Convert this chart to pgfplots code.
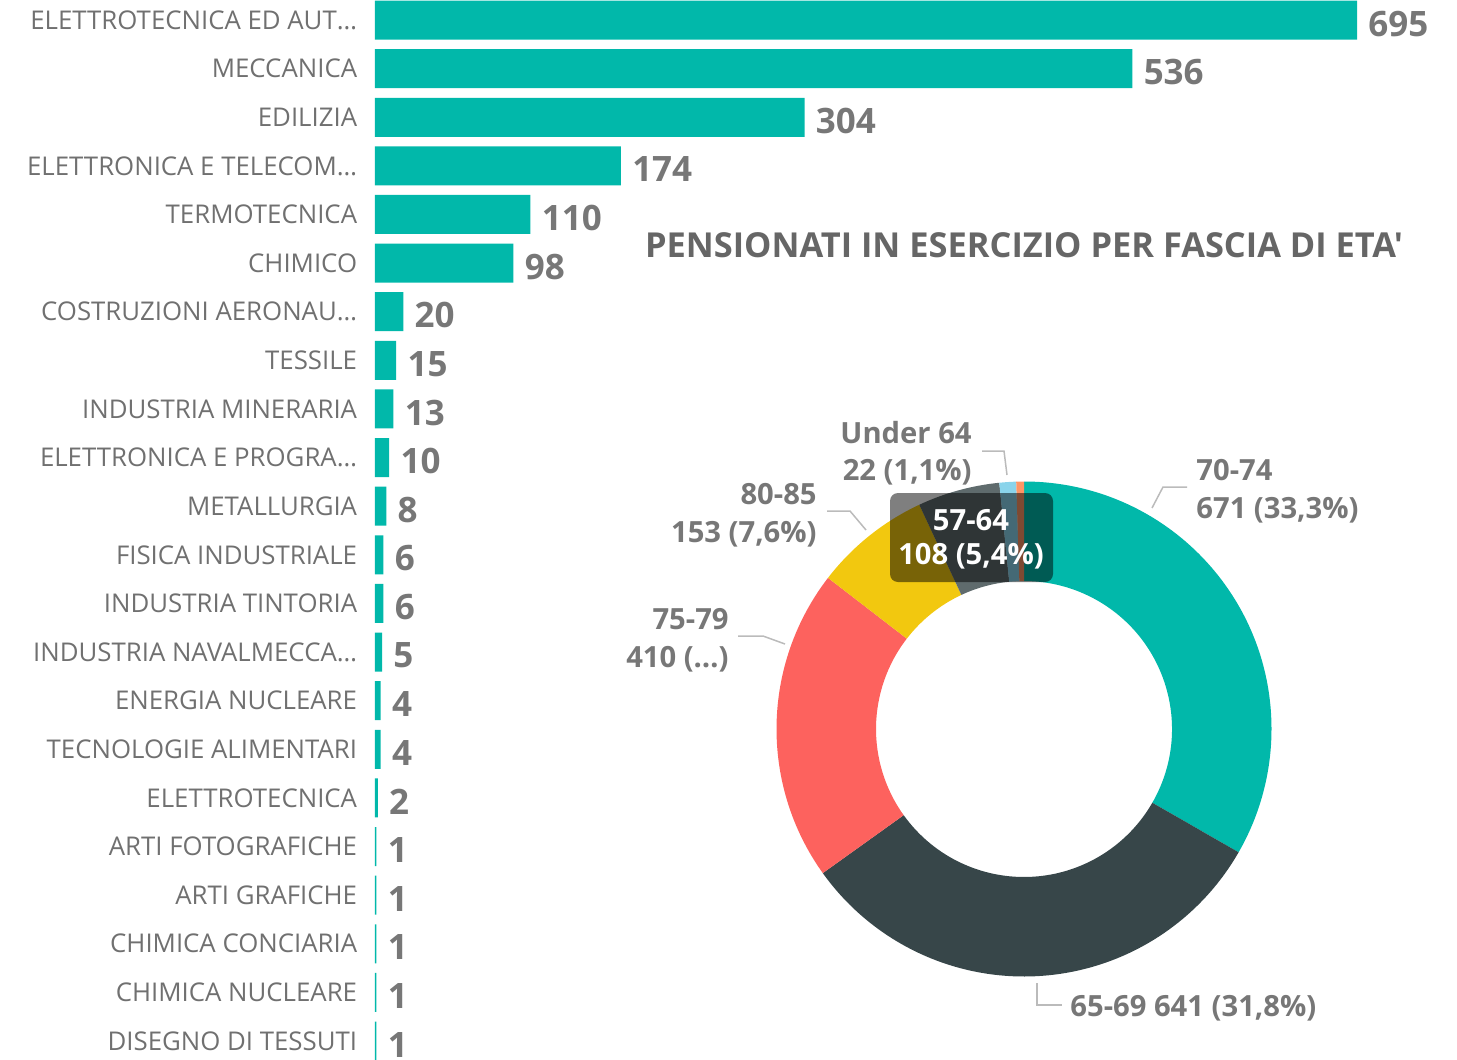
\documentclass[border=0pt]{standalone}
\usepackage{pgfplots}
\pgfplotsset{compat=1.18}
\usepackage{pgfplotstable}
\usepackage{fontspec}
\setmainfont{Open Sans}[Ligatures=TeXOff]
\definecolor{teal}{HTML}{01B8AA}
\definecolor{dark}{HTML}{374649}
\definecolor{redc}{HTML}{FD625E}
\definecolor{yel}{HTML}{F2C80F}
\definecolor{grayc}{HTML}{5F6B6D}
\definecolor{lblue}{HTML}{8AD4EB}
\definecolor{orng}{HTML}{FE9666}
\definecolor{lab}{HTML}{777777}
\definecolor{cat}{HTML}{707070}
\definecolor{ttl}{HTML}{666666}
\definecolor{lead}{HTML}{BBBBBB}

\pgfplotstableread{
idx val
0 695
1 536
2 304
3 174
4 110
5 98
6 20
7 15
8 13
9 10
10 8
11 6
12 6
13 5
14 4
15 4
16 2
17 1
18 1
19 1
20 1
21 1
}\bars

% donut data: 70-74, 65-69, 75-79, 80-85, 57-64, Under 64, other
\def\vA{671}\def\vB{641}\def\vC{410}\def\vD{153}\def\vE{108}\def\vF{22}\def\vG{10}

\newcommand\sector[3]{%
  \fill[#3] (axis cs:{cos(#1)},{sin(#1)}) arc[start angle=#1, end angle=#2, radius=123.75pt]
    -- (axis cs:{0.5980*cos(#2)},{0.5980*sin(#2)}) arc[start angle=#2, end angle=#1, radius=74pt] -- cycle;}

\begin{document}
\begin{tikzpicture}
\path[use as bounding box] (0,0) rectangle (728.5pt,-530pt);

\begin{axis}[
  at={(187.5pt,2.155pt)}, anchor=north west,
  scale only axis, width=491pt, height=534.8pt,
  xbar, bar width=19.5pt,
  xmin=0, xmax=695,
  ymin=-0.5, ymax=21.5, y dir=reverse,
  axis line style={draw=none}, tick style={draw=none},
  xtick=\empty,
  ytick={0,1,2,3,4,5,6,7,8,9,10,11,12,13,14,15,16,17,18,19,20,21},
  yticklabels={{ELETTROTECNICA ED AUT\char"2026},{MECCANICA},{EDILIZIA},{ELETTRONICA E TELECOM\char"2026},{TERMOTECNICA},{CHIMICO},{COSTRUZIONI AERONAU\char"2026},{TESSILE},{INDUSTRIA MINERARIA},{ELETTRONICA E PROGRA\char"2026},{METALLURGIA},{FISICA INDUSTRIALE},{INDUSTRIA TINTORIA},{INDUSTRIA NAVALMECCA\char"2026},{ENERGIA NUCLEARE},{TECNOLOGIE ALIMENTARI},{ELETTROTECNICA},{ARTI FOTOGRAFICHE},{ARTI GRAFICHE},{CHIMICA CONCIARIA},{CHIMICA NUCLEARE},{DISEGNO DI TESSUTI}},
  yticklabel style={font=\fontsize{12.9}{15}\selectfont, text=cat, anchor=east, inner sep=0pt, xshift=-4.5pt},
  clip=false,
  /pgf/number format/assume math mode=true,
  nodes near coords,
  every node near coord/.append style={font=\fontsize{17.5}{20}\selectfont\bfseries, text=lab, anchor=west, inner sep=0pt, xshift=5.5pt, yshift=-1.8pt},
]
\addplot[fill=teal, draw=none] table[x=val, y=idx] {\bars};
\end{axis}

\pgfmathsetmacro\T{\vA+\vB+\vC+\vD+\vE+\vF+\vG}
\pgfmathsetmacro\k{360/\T}
\pgfmathsetmacro\aO{90}
\pgfmathsetmacro\aA{90-\k*(\vA)}
\pgfmathsetmacro\aB{90-\k*(\vA+\vB)}
\pgfmathsetmacro\aC{90-\k*(\vA+\vB+\vC)}
\pgfmathsetmacro\aD{90-\k*(\vA+\vB+\vC+\vD)}
\pgfmathsetmacro\aE{90-\k*(\vA+\vB+\vC+\vD+\vE)}
\pgfmathsetmacro\aF{90-\k*(\vA+\vB+\vC+\vD+\vE+\vF)}
\pgfmathsetmacro\aG{-270}

\begin{axis}[
  at={(512pt,-364.5pt)}, anchor=center,
  scale only axis, width=247.5pt, height=247.5pt,
  xmin=-1, xmax=1, ymin=-1, ymax=1,
  hide axis, clip=false,
]
\addplot[draw=none] coordinates {(-1,-1) (1,1)};
\sector{\aO}{\aA}{teal}
\sector{\aA}{\aB}{dark}
\sector{\aB}{\aC}{redc}
\sector{\aC}{\aD}{yel}
\sector{\aD}{\aE}{grayc}
\sector{\aE}{\aF}{lblue}
\sector{\aF}{\aG}{orng}
\end{axis}

\begin{scope}[x=0.5pt, y=-0.5pt]
% title
\node[font=\fontsize{17.2}{20}\selectfont\bfseries, text=ttl] at (1024,245) {PENSIONATI IN ESERCIZIO PER FASCIA DI ETA'};
% leader lines
\draw[lead, line width=0.75pt] (982,451) -- (1004,451) -- (1007,475);
\draw[lead, line width=0.75pt] (827,511) -- (850,511) -- (866,530);
\draw[lead, line width=0.75pt] (738,636) -- (763,636) -- (785,644);
\draw[lead, line width=0.75pt] (1187,487) -- (1163,487) -- (1152,508);
\draw[lead, line width=0.75pt] (1037,983) -- (1037,1005) -- (1062,1005);
% donut labels
\tikzset{dl/.style={font=\fontsize{14.6}{18}\selectfont\bfseries, text=lab, inner sep=0pt}}
\node[dl, anchor=east] at (972,433) {Under 64};
\node[dl, anchor=east] at (972,472) {22 (1,1\%)};
\node[dl, anchor=east] at (817,494) {80-85};
\node[dl, anchor=east] at (817,534) {153 (7,6\%)};
\node[dl, anchor=east] at (729,619) {75-79};
\node[dl, anchor=east] at (729,659) {410 (\char"2026)};
\node[dl, anchor=west] at (1196,470) {70-74};
\node[dl, anchor=west] at (1196,510) {671 (33,3\%)};
\node[dl, anchor=west] at (1070,1008) {65-69 641 (31,8\%)};
% tooltip
\fill[black, opacity=0.5, rounded corners=4pt] (890,493) rectangle (1053,582);
\node[font=\fontsize{14.6}{18}\selectfont\bfseries, text=white, inner sep=0pt] at (971,520) {57-64};
\node[font=\fontsize{14.6}{18}\selectfont\bfseries, text=white, inner sep=0pt] at (971,556) {108 (5,4\%)};
\end{scope}
\end{tikzpicture}
\end{document}
